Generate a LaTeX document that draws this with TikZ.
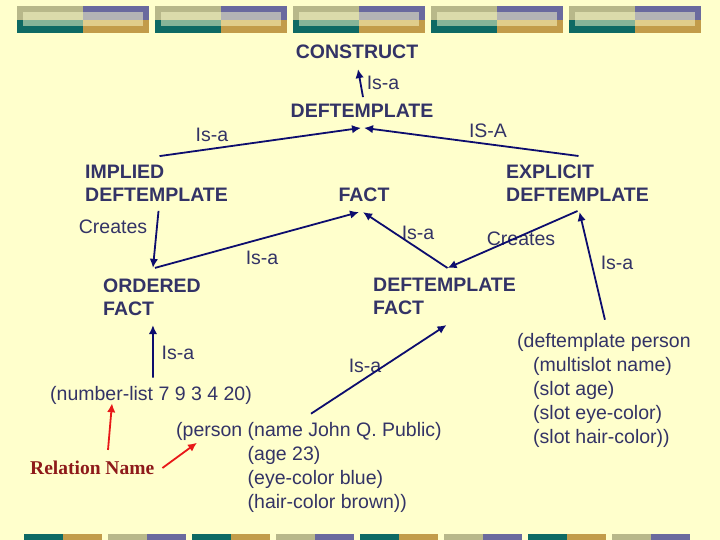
\documentclass[tikz,border=0pt]{standalone}
\usepackage{fontspec}
\setmainfont{Liberation Sans}
\newfontfamily\serifrel{Liberation Serif}
\usetikzlibrary{arrows.meta,calc}

\definecolor{fundo}{HTML}{FFFFCC}
\definecolor{texto}{HTML}{333366}
\definecolor{seta}{HTML}{0D0D6E}
\definecolor{oliva}{HTML}{B8B88A}
\definecolor{roxo}{HTML}{6A6A9E}
\definecolor{verde}{HTML}{0E6A64}
\definecolor{mostarda}{HTML}{C29C4A}
\definecolor{vermelho}{HTML}{E81818}
\definecolor{vinho}{HTML}{8E1A1A}

\tikzset{
	conceito/.style={inner sep=0, text=texto, align=left, font=\fontsize{19.5bp}{23bp}\selectfont\bfseries},
	codigo/.style={inner sep=0, text=texto, align=left, font=\fontsize{19.5bp}{24bp}\selectfont},
	rotulo/.style={inner sep=0, text=texto, font=\fontsize{19.5bp}{24bp}\selectfont},
	relacao/.style={inner sep=0, text=vinho, font=\serifrel\fontsize{19.5bp}{24bp}\selectfont\bfseries},
	ligacao/.style={->, seta, line width=1.8bp},
	marca/.style={->, vermelho, line width=1.8bp}
}

\begin{document}
\begin{tikzpicture}[x=1bp, y=-1bp, >={Latex[length=9bp,width=8.5bp]}]
	%fundo
	\fill[fundo] (0,0) rectangle (720,540);
	\useasboundingbox (0,0) rectangle (720,540);

	%barras do topo
	\foreach \i in {0,...,4} {
		\pgfmathsetmacro\xa{17+138*\i}
		\fill[oliva] (\xa,6) rectangle ++(66,14);
		\fill[roxo] (\xa+66,6) rectangle ++(66,14);
		\fill[verde] (\xa,20) rectangle ++(66,13);
		\fill[mostarda] (\xa+66,20) rectangle ++(66,13);
		\fill[fundo, opacity=0.5] (\xa+6,11.7) rectangle (\xa+126,26);
	}

	%barras de baixo
	\foreach \i in {0,...,7} {
		\pgfmathsetmacro\xb{24+84*\i}
		\ifodd\i\relax
			\fill[oliva] (\xb,534) rectangle ++(39,6);
			\fill[roxo] (\xb+39,534) rectangle ++(39,6);
		\else
			\fill[verde] (\xb,534) rectangle ++(39,6);
			\fill[mostarda] (\xb+39,534) rectangle ++(39,6);
		\fi
	}

	%conceitos
	\node[conceito] (construct) at (357,52) {CONSTRUCT};
	\node[conceito] (deft) at (362,111) {DEFTEMPLATE};
	\node[conceito, anchor=west] (implied) at (85,183.5) {IMPLIED\\DEFTEMPLATE};
	\node[conceito] (fact) at (364,195) {FACT};
	\node[conceito, anchor=west] (explicit) at (506,183.5) {EXPLICIT\\DEFTEMPLATE};
	\node[conceito, anchor=west] (ordered) at (103,297.5) {ORDERED\\FACT};
	\node[conceito, anchor=west] (deffact) at (373,296.5) {DEFTEMPLATE\\FACT};

	%exemplos
	\node[codigo, anchor=west] (numlist) at (50,395) {(number-list 7 9 3 4 20)};
	\node[codigo, anchor=west] (person) at (176,467) {(person (name John Q. Public)\\\phantom{(person }(age 23)\\\phantom{(person }(eye-color blue)\\\phantom{(person }(hair-color brown))};
	\node[codigo, anchor=west] (deftperson) at (517,390) {(deftemplate person\\\hspace*{16bp}(multislot name)\\\hspace*{16bp}(slot age)\\\hspace*{16bp}(slot eye-color)\\\hspace*{16bp}(slot hair-color))};
	\node[relacao, anchor=west] (relname) at (30,468) {Relation Name};

	%rotulos
	\node[rotulo] (isaconstruct) at (383,83) {Is-a};
	\node[rotulo] (isaimplied) at (212,135) {Is-a};
	\node[rotulo] (isaexplicit) at (488,131) {IS-A};
	\node[rotulo] (createsimplied) at (113,227) {Creates};
	\node[rotulo] (isaordered) at (262,258) {Is-a};
	\node[rotulo] (isadeffact) at (418,233) {Is-a};
	\node[rotulo] (createsexplicit) at (521,239) {Creates};
	\node[rotulo] (isadeftperson) at (617,263) {Is-a};
	\node[rotulo] (isanumlist) at (178,353) {Is-a};
	\node[rotulo] (isaperson) at (365,366) {Is-a};

	%setas
	\draw[ligacao] ($(deft.north)+(1,-7)$) -- ($(construct.south)+(1,10)$);
	\draw[ligacao] ($(implied.north)+(3,-9)$) -- ($(deft.south)+(-1,10)$);
	\draw[ligacao] ($(explicit.north)+(1,-9)$) -- ($(deft.south)+(2,10)$);
	\draw[ligacao] ($(implied.south)+(2,9)$) -- ($(ordered.north)+(1,-11)$);
	\draw[ligacao] ($(ordered.north)+(3,-11)$) -- ($(fact.south)+(-5,10)$);
	\draw[ligacao] ($(deffact.north)+(3,-10)$) -- ($(fact.south)+(-1,10)$);
	\draw[ligacao] ($(explicit.south)+(0,9)$) -- ($(deffact.north)+(3,-10)$);
	\draw[ligacao] ($(deftperson.north)+(1,-13)$) -- ($(explicit.south)+(2,10)$);
	\draw[ligacao] ($(numlist.north)+(2,-8)$) -- ($(ordered.south)+(1,9)$);
	\draw[ligacao] ($(person.north west)+(135,-8)$) -- ($(deffact.south)+(2,10)$);

	%nome da relacao
	\draw[marca] ($(relname.north west)+(78,-11)$) -- ($(numlist.south west)+(62,-1)$);
	\draw[marca] ($(relname.east)+(8,0)$) -- ($(person.north west)+(21,21)$);
\end{tikzpicture}
\end{document}
